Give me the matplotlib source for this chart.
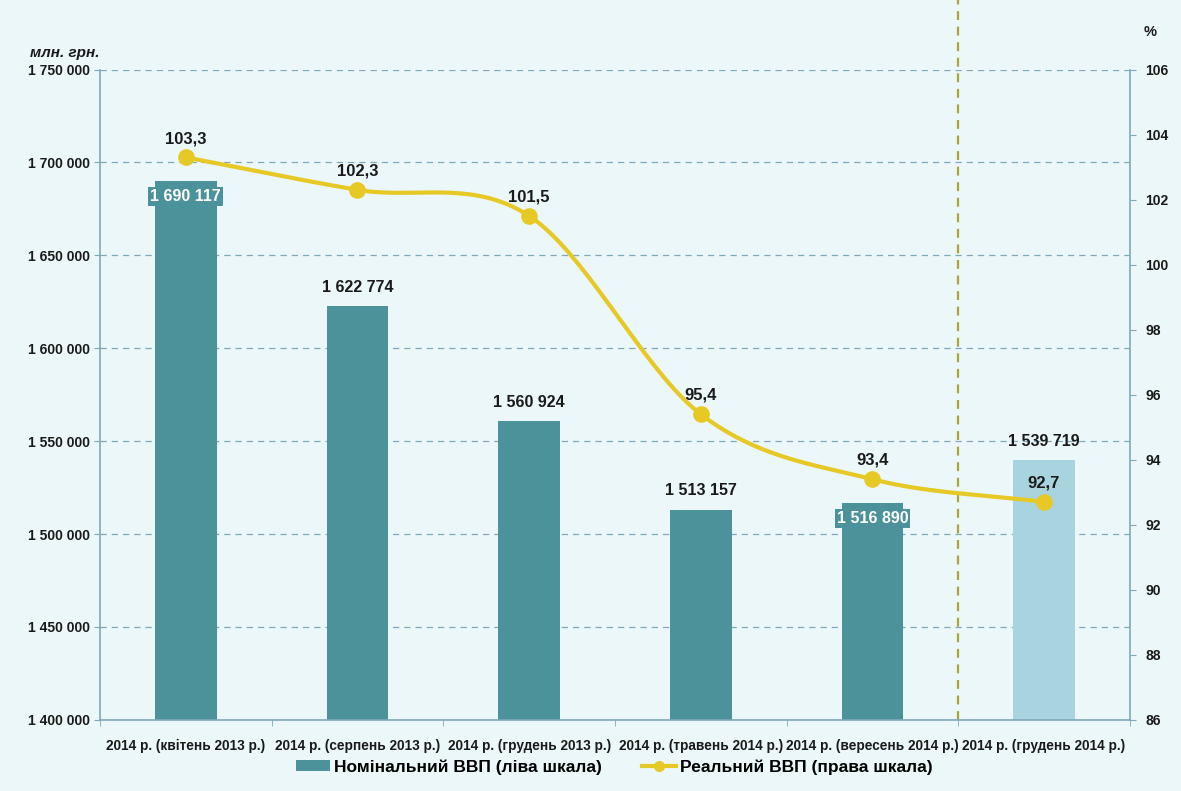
import matplotlib
matplotlib.use("Agg")
import matplotlib.pyplot as plt
import numpy as np
from matplotlib.lines import Line2D
from matplotlib.patches import Patch

categories = ["2014 р. (квітень 2013 р.)", "2014 р. (серпень 2013 р.)",
              "2014 р. (грудень 2013 р.)", "2014 р. (травень 2014 р.)",
              "2014 р. (вересень 2014 р.)", "2014 р. (грудень 2014 р.)"]
nominal = [1690117, 1622774, 1560924, 1513157, 1516890, 1539719]
real = [103.3, 102.3, 101.5, 95.4, 93.4, 92.7]
nominal_labels = ["1 690 117", "1 622 774", "1 560 924", "1 513 157", "1 516 890", "1 539 719"]
real_labels = ["103,3", "102,3", "101,5", "95,4", "93,4", "92,7"]
left_ticks = [1400000, 1450000, 1500000, 1550000, 1600000, 1650000, 1700000, 1750000]
right_ticks = [86, 88, 90, 92, 94, 96, 98, 100, 102, 104, 106]

import matplotlib.font_manager as fm
avail = {f.name for f in fm.fontManager.ttflist}
FONT = [f for f in ["Liberation Sans Narrow", "Liberation Sans", "DejaVu Sans"] if f in avail]
plt.rcParams['font.family'] = FONT

bg = "#ecf7fa"
bar_col = "#4c929b"
last_col = "#a8d4e0"
line_col = "#e6c925"
grid_col = "#7fa8b8"
txt = "#1a1a1a"

fig = plt.figure(figsize=(11.81, 7.91), dpi=100, facecolor=bg)
ax = fig.add_axes([0.0847, 0.09, 0.872, 0.822])
ax.set_facecolor(bg)
x = np.arange(len(categories))
colors = [bar_col] * (len(categories) - 1) + [last_col]
ax.bar(x, nominal, width=0.36, color=colors, zorder=2)
ax.set_ylim(1400000, 1750000)
ax.set_xlim(-0.5, len(categories) - 0.5)
ax.set_yticks(left_ticks)
ax.set_yticklabels([f"{v:,}".replace(",", " ") for v in left_ticks],
                   fontsize=10, fontweight="bold", color=txt)
ax.set_xticks(x)
ax.set_xticklabels(categories, fontsize=9.8, fontweight="bold", color=txt)
ax.set_xticks(np.arange(-0.5, len(categories), 1), minor=True)
ax.tick_params(axis="x", which="major", length=0, pad=14)
ax.tick_params(axis="x", which="minor", length=4, color=grid_col)
ax.tick_params(axis="y", length=4, color=grid_col)
ax.grid(axis="y", color=grid_col, linestyle=(0, (5, 4)), linewidth=0.9, zorder=0)
for s in ["top", "right"]:
    ax.spines[s].set_visible(False)
for s in ["left", "bottom"]:
    ax.spines[s].set_color(grid_col)
    ax.spines[s].set_linewidth(1.2)

ax.axvline(4.5, color="#a9a632", linestyle=(0, (4, 3)), linewidth=1.6, zorder=1,
           ymax=1.12, clip_on=False)

inside = [0, 4]
for i, (v, lab) in enumerate(zip(nominal, nominal_labels)):
    if i in inside:
        ax.text(i, v - 4500, lab, ha="center", va="top", color="white",
                fontsize=11.5, fontweight="bold", zorder=4,
                bbox=dict(facecolor=bar_col, edgecolor="none", pad=1.5))
    else:
        ax.text(i, v + 6000, lab, ha="center", va="bottom", color=txt,
                fontsize=11.5, fontweight="bold", zorder=4)

ax2 = ax.twinx()
ax2.set_ylim(86, 106)
ax2.set_yticks(right_ticks)
ax2.set_yticklabels([str(t) for t in right_ticks], fontsize=10, fontweight="bold", color=txt)
ax2.tick_params(axis="y", length=4, color=grid_col, pad=7)
for s in ["top", "left", "bottom"]:
    ax2.spines[s].set_visible(False)
ax2.spines["right"].set_color(grid_col)
ax2.spines["right"].set_linewidth(1.2)

# smooth curve (Catmull-Rom) through the data points
px = np.array(x, dtype=float)
py = np.array(real, dtype=float)
P = np.column_stack([px, py])
P_ext = np.vstack([P[0] - (P[1] - P[0]), P, P[-1] + (P[-1] - P[-2])])
cx, cy = [], []
tt = np.linspace(0, 1, 40)
for k in range(1, len(P_ext) - 2):
    p0, p1, p2, p3 = P_ext[k - 1], P_ext[k], P_ext[k + 1], P_ext[k + 2]
    for t in tt:
        pt = 0.5 * ((2 * p1) + (-p0 + p2) * t + (2 * p0 - 5 * p1 + 4 * p2 - p3) * t ** 2
                    + (-p0 + 3 * p1 - 3 * p2 + p3) * t ** 3)
        cx.append(pt[0]); cy.append(pt[1])
ax2.plot(cx, cy, color=line_col, linewidth=3, zorder=5)
ax2.plot(px, py, "o", color=line_col, markersize=11, zorder=6)
for i, (v, lab) in enumerate(zip(real, real_labels)):
    ax2.text(i, v + 0.35, lab, ha="center", va="bottom", fontsize=12,
             fontweight="bold", color=txt, zorder=7)

fig.text(0.025, 0.933, "млн. грн.", fontsize=11, fontweight="bold", style="italic",
         color=txt, va="center")
fig.text(0.968, 0.955, "%", fontsize=10.5, fontweight="bold", color=txt)

handles = [Patch(facecolor=bar_col, edgecolor="none"),
           Line2D([0], [0], color=line_col, linewidth=3, marker="o", markersize=7)]
fig.legend(handles, ["Номінальний ВВП (ліва шкала)", "Реальний ВВП (права шкала)"],
           loc="center", bbox_to_anchor=(0.52, 0.03), ncol=2, frameon=False,
           prop={"size": 12.5, "weight": "bold", "family": FONT},
           handlelength=2.0, handleheight=0.6, columnspacing=2.3, handletextpad=0.2)

fig.savefig("out.png", dpi=100, facecolor=bg)
